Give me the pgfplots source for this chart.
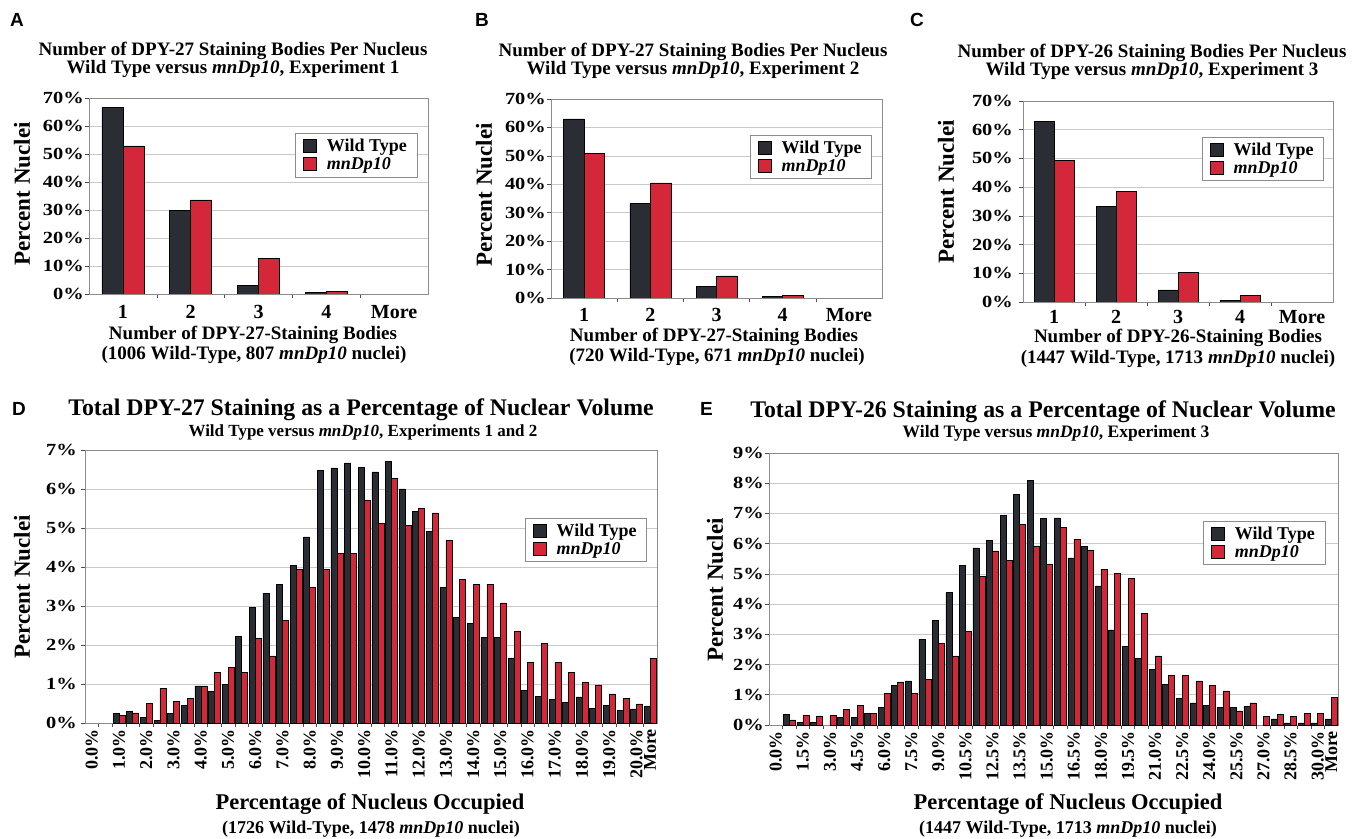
\documentclass[border=0pt]{standalone}
\usepackage{fontspec}
\setmainfont{Liberation Serif}
\newfontfamily\sansf{Liberation Sans}
\newfontfamily\tickf{Liberation Serif}[FakeStretch=1.2]
\usepackage{pgfplots}
\usepackage{pgfplotstable}
\pgfplotsset{compat=1.18}
\definecolor{wt}{HTML}{2B2D35}
\definecolor{mn}{HTML}{D4283A}
\definecolor{gridc}{HTML}{C8C8C8}
\definecolor{framec}{HTML}{8C8C8C}
\newcommand\fs[1]{\fontsize{#1}{#1}\selectfont}

\pgfplotstableread{
c wt mn
1 66.7 52.9
2 29.9 33.6
3 3.1 12.6
4 0.5 0.9
}\dataA
\pgfplotstableread{
c wt mn
1 63.0 50.9
2 33.3 40.5
3 4.2 7.8
4 0.6 1.0
}\dataB
\pgfplotstableread{
c wt mn
1 63.0 49.3
2 33.4 38.5
3 4.2 10.2
4 0.6 2.2
}\dataC
\pgfplotstableread{
c wt mn
0 nan nan
1 nan nan
2 0.24 0.20
3 0.30 0.26
4 0.14 0.50
5 0.07 0.88
6 0.24 0.56
7 0.45 0.63
8 0.95 0.95
9 0.81 1.29
10 1.00 1.42
11 2.23 1.29
12 2.97 2.17
13 3.33 1.72
14 3.56 2.64
15 4.05 3.93
16 4.77 3.48
17 6.48 3.93
18 6.54 4.34
19 6.67 4.34
20 6.55 5.70
21 6.44 5.12
22 6.70 6.27
23 6.00 5.06
24 5.43 5.51
25 4.92 5.39
26 3.48 4.69
27 2.70 3.69
28 2.55 3.56
29 2.19 3.56
30 2.19 3.08
31 1.67 2.35
32 0.83 1.56
33 0.68 2.04
34 0.60 1.56
35 0.53 1.30
36 0.67 1.04
37 0.38 0.98
38 0.45 0.75
39 0.32 0.63
40 0.36 0.49
41 0.43 1.65
}\dataD
\pgfplotstableread{
c wt mn
0 nan nan
1 0.35 0.17
2 0.08 0.33
3 0.08 0.30
4 nan 0.33
5 0.25 0.52
6 0.25 0.65
7 0.39 0.39
8 0.58 1.05
9 1.32 1.43
10 1.46 1.05
11 2.84 1.51
12 3.45 2.70
13 4.38 2.29
14 5.29 3.11
15 5.86 4.93
16 6.11 5.76
17 6.94 5.45
18 7.62 6.63
19 8.09 5.93
20 6.84 5.33
21 6.85 6.55
22 5.53 6.14
23 5.90 5.79
24 4.60 5.15
25 3.15 5.01
26 2.60 4.85
27 2.20 3.69
28 1.85 2.29
29 1.34 1.65
30 0.89 1.65
31 0.73 1.46
32 0.64 1.32
33 0.58 1.13
34 0.58 0.47
35 0.62 0.73
36 nan 0.29
37 0.20 0.34
38 0.07 0.29
39 0.07 0.38
40 0.07 0.38
41 0.20 0.91
}\dataE

\pgfplotsset{
  sqlegend/.style={legend image code/.code={\draw[##1,draw=black,line width=0.6pt] (0pt,-6.5pt) rectangle (13pt,6.5pt);}},
  panel/.style={
    scale only axis, anchor=south west,
    ybar=0pt, ymin=0,
    axis line style={framec, line width=0.8pt},
    ymajorgrids, grid style={gridc, line width=0.6pt},
    tick style={black!70, line width=0.6pt},
    tick align=outside,
    major tick length=4pt, minor tick length=4pt,
    xtick pos=bottom, ytick pos=left,
    major x tick style={draw=none},
    legend style={draw=framec, fill=white, font=\bfseries\fs{18}, inner xsep=8pt, inner ysep=4pt,
      nodes={inner sep=2pt}, column sep=8pt, row sep=0pt},
    legend cell align=left,
  },
}

\begin{document}
\begin{tikzpicture}[x=1pt,y=1pt]
\path[use as bounding box] (0pt,0pt) rectangle (1360pt,838pt);

% ---------- A ----------
\begin{axis}[panel, at={(89pt,544pt)}, width=339pt, height=196pt,
  xmin=0.5, xmax=5.5, ymax=70, ytick={0,10,...,70},
  yticklabels={0\%,10\%,20\%,30\%,40\%,50\%,60\%,70\%},
  xtick={1,2,3,4,5}, xticklabels={1,2,3,4,More},
  minor xtick={1.5,2.5,3.5,4.5},
  bar width=21pt,
  yticklabel style={font=\tickf\bfseries\fs{17}, inner xsep=1pt},
  xticklabel style={font=\bfseries\fs{20}, anchor=base, yshift=-21pt},
  legend style={at={(0.608,0.821)}, anchor=north west},
]
\addplot[fill=wt, draw=black, line width=0.6pt, sqlegend] table[x=c, y=wt] {\dataA};
\addplot[fill=mn, draw=black, line width=0.6pt, sqlegend] table[x=c, y=mn] {\dataA};
\legend{Wild Type, \textit{mnDp10}}
\end{axis}

% ---------- B ----------
\begin{axis}[panel, at={(551pt,540pt)}, width=331pt, height=199pt,
  xmin=0.5, xmax=5.5, ymax=70, ytick={0,10,...,70},
  yticklabels={0\%,10\%,20\%,30\%,40\%,50\%,60\%,70\%},
  xtick={1,2,3,4,5}, xticklabels={1,2,3,4,More},
  minor xtick={1.5,2.5,3.5,4.5},
  bar width=20.5pt,
  yticklabel style={font=\tickf\bfseries\fs{17}, inner xsep=1pt},
  xticklabel style={font=\bfseries\fs{20}, anchor=base, yshift=-20pt},
  legend style={at={(0.601,0.819)}, anchor=north west},
]
\addplot[fill=wt, draw=black, line width=0.6pt, sqlegend] table[x=c, y=wt] {\dataB};
\addplot[fill=mn, draw=black, line width=0.6pt, sqlegend] table[x=c, y=mn] {\dataB};
\legend{Wild Type, \textit{mnDp10}}
\end{axis}

% ---------- C ----------
\begin{axis}[panel, at={(1023pt,536pt)}, width=310pt, height=201pt,
  xmin=0.5, xmax=5.5, ymax=70, ytick={0,10,...,70},
  yticklabels={0\%,10\%,20\%,30\%,40\%,50\%,60\%,70\%},
  xtick={1,2,3,4,5}, xticklabels={1,2,3,4,More},
  minor xtick={1.5,2.5,3.5,4.5},
  bar width=20pt,
  yticklabel style={font=\tickf\bfseries\fs{17}, inner xsep=6pt},
  xticklabel style={font=\bfseries\fs{20}, anchor=base, yshift=-18pt},
  legend style={at={(0.577,0.821)}, anchor=north west},
]
\addplot[fill=wt, draw=black, line width=0.6pt, sqlegend] table[x=c, y=wt] {\dataC};
\addplot[fill=mn, draw=black, line width=0.6pt, sqlegend] table[x=c, y=mn] {\dataC};
\legend{Wild Type, \textit{mnDp10}}
\end{axis}

% ---------- D ----------
\begin{axis}[panel, at={(85pt,115pt)}, width=572pt, height=273pt,
  xmin=-0.5, xmax=41.5, ymax=7, ytick={0,1,...,7},
  yticklabels={0\%,1\%,2\%,3\%,4\%,5\%,6\%,7\%},
  xtick={0,2,...,40,41},
  xticklabels={0.0\%,1.0\%,2.0\%,3.0\%,4.0\%,5.0\%,6.0\%,7.0\%,8.0\%,9.0\%,10.0\%,11.0\%,12.0\%,13.0\%,14.0\%,15.0\%,16.0\%,17.0\%,18.0\%,19.0\%,20.0\%,More},
  minor xtick={0.5,1.5,...,40.5},
  bar width=6pt,
  yticklabel style={font=\tickf\bfseries\fs{17}, inner xsep=4pt},
  xticklabel style={font=\bfseries\fs{18}, rotate=90, anchor=east, inner xsep=2pt},
  legend style={at={(0.769,0.751)}, anchor=north west},
]
\addplot[fill=wt, draw=black, line width=0.5pt, sqlegend] table[x=c, y=wt] {\dataD};
\addplot[fill=mn, draw=black, line width=0.5pt, sqlegend] table[x=c, y=mn] {\dataD};
\legend{Wild Type, \textit{mnDp10}}
\end{axis}

% ---------- E ----------
\begin{axis}[panel, at={(769pt,113pt)}, width=569pt, height=272pt,
  xmin=-0.5, xmax=41.5, ymax=9, ytick={0,1,...,9},
  yticklabels={0\%,1\%,2\%,3\%,4\%,5\%,6\%,7\%,8\%,9\%},
  xtick={0,2,...,40,41},
  xticklabels={0.0\%,1.5\%,3.0\%,4.5\%,6.0\%,7.5\%,9.0\%,10.5\%,12.5\%,13.5\%,15.0\%,16.5\%,18.0\%,19.5\%,21.0\%,22.5\%,24.0\%,25.5\%,27.0\%,28.5\%,30.0\%,More},
  minor xtick={0.5,1.5,...,40.5},
  bar width=6pt,
  yticklabel style={font=\tickf\bfseries\fs{17}, inner xsep=1pt},
  xticklabel style={font=\bfseries\fs{18}, rotate=90, anchor=east, inner xsep=2pt},
  legend style={at={(0.763,0.75)}, anchor=north west},
]
\addplot[fill=wt, draw=black, line width=0.5pt, sqlegend] table[x=c, y=wt] {\dataE};
\addplot[fill=mn, draw=black, line width=0.5pt, sqlegend] table[x=c, y=mn] {\dataE};
\legend{Wild Type, \textit{mnDp10}}
\end{axis}

% ---------- texts ----------
\begin{scope}[every node/.style={inner sep=0pt}]
\node[anchor=base west, font=\sansf\bfseries\fs{19}] at (10pt,811pt) {A};
\node[anchor=base west, font=\sansf\bfseries\fs{19}] at (475pt,811pt) {B};
\node[anchor=base west, font=\sansf\bfseries\fs{19}] at (910pt,811pt) {C};
\node[anchor=base west, font=\sansf\bfseries\fs{19}] at (12pt,422pt) {D};
\node[anchor=base west, font=\sansf\bfseries\fs{19}] at (700pt,422pt) {E};

\node[anchor=base, font=\bfseries\fs{19}] at (233pt,782pt) {Number of DPY-27 Staining Bodies Per Nucleus};
\node[anchor=base, font=\bfseries\fs{19}] at (233pt,764pt) {Wild Type versus \textit{mnDp10}, Experiment 1};
\node[anchor=base, font=\bfseries\fs{19}] at (693pt,781pt) {Number of DPY-27 Staining Bodies Per Nucleus};
\node[anchor=base, font=\bfseries\fs{19}] at (693pt,763pt) {Wild Type versus \textit{mnDp10}, Experiment 2};
\node[anchor=base, font=\bfseries\fs{19}] at (1152pt,780pt) {Number of DPY-26 Staining Bodies Per Nucleus};
\node[anchor=base, font=\bfseries\fs{19}] at (1152pt,762pt) {Wild Type versus \textit{mnDp10}, Experiment 3};

\node[anchor=base, font=\bfseries\fs{19}] at (253pt,498pt) {Number of DPY-27-Staining Bodies};
\node[anchor=base, font=\bfseries\fs{19}] at (254pt,478pt) {(1006 Wild-Type, 807 \textit{mnDp10} nuclei)};
\node[anchor=base, font=\bfseries\fs{19}] at (714pt,496pt) {Number of DPY-27-Staining Bodies};
\node[anchor=base, font=\bfseries\fs{19}] at (717pt,476pt) {(720 Wild-Type, 671 \textit{mnDp10} nuclei)};
\node[anchor=base, font=\bfseries\fs{19}] at (1178pt,495pt) {Number of DPY-26-Staining Bodies};
\node[anchor=base, font=\bfseries\fs{19}] at (1178pt,474pt) {(1447 Wild-Type, 1713 \textit{mnDp10} nuclei)};

\node[rotate=90, font=\bfseries\fs{23}] at (22pt,644pt) {Percent Nuclei};
\node[rotate=90, font=\bfseries\fs{23}] at (484pt,643pt) {Percent Nuclei};
\node[rotate=90, font=\bfseries\fs{23}] at (946pt,646pt) {Percent Nuclei};
\node[rotate=90, font=\bfseries\fs{23}] at (22pt,251pt) {Percent Nuclei};
\node[rotate=90, font=\bfseries\fs{23}] at (715pt,248pt) {Percent Nuclei};

\node[anchor=base, font=\bfseries\fs{23.8}] at (361pt,422pt) {Total DPY-27 Staining as a Percentage of Nuclear Volume};
\node[anchor=base, font=\bfseries\fs{17}] at (363pt,401pt) {Wild Type versus \textit{mnDp10}, Experiments 1 and 2};
\node[anchor=base, font=\bfseries\fs{23.8}] at (1043pt,420pt) {Total DPY-26 Staining as a Percentage of Nuclear Volume};
\node[anchor=base, font=\bfseries\fs{17.5}] at (1056pt,400pt) {Wild Type versus \textit{mnDp10}, Experiment 3};

\node[anchor=base, font=\bfseries\fs{22.5}] at (370pt,28pt) {Percentage of Nucleus Occupied};
\node[anchor=base, font=\bfseries\fs{18}] at (371pt,5pt) {(1726 Wild-Type, 1478 \textit{mnDp10} nuclei)};
\node[anchor=base, font=\bfseries\fs{22.5}] at (1068pt,28pt) {Percentage of Nucleus Occupied};
\node[anchor=base, font=\bfseries\fs{18}] at (1068pt,5pt) {(1447 Wild-Type, 1713 \textit{mnDp10} nuclei)};
\end{scope}
\end{tikzpicture}
\end{document}
